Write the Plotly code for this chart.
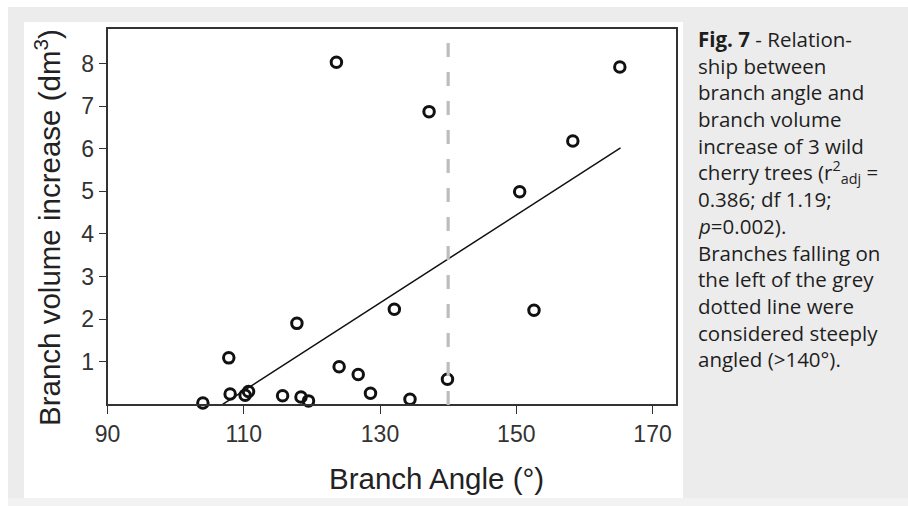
import plotly.graph_objects as go

# ---- data ----
angle = [104.0, 107.8, 108.0, 110.2, 110.7, 115.7, 117.8, 118.4, 119.5, 124.0, 126.8,
         128.6, 132.1, 134.4, 139.9, 152.6, 123.6, 137.2, 150.5, 158.3, 165.2]
volume = [0.03, 1.09, 0.24, 0.21, 0.30, 0.20, 1.90, 0.17, 0.08, 0.88, 0.70,
          0.26, 2.23, 0.12, 0.59, 2.21, 8.03, 6.87, 4.99, 6.18, 7.92]
fit_x = [106.9, 165.3]
fit_y = [0.0, 6.02]
threshold = 140
x_ticks = [90, 110, 130, 150, 170]
y_ticks = [1, 2, 3, 4, 5, 6, 7, 8]

x_title = "Branch Angle (°)"
y_title = "Branch volume increase (dm<sup>3</sup>)"

caption_lines = [
    "<b>Fig. 7</b> - Relation-",
    "ship between",
    "branch angle and",
    "branch volume",
    "increase of 3 wild",
    "cherry trees (r<sup>2</sup><sub>adj</sub> =",
    "0.386; df 1.19;",
    "<i>p</i>=0.002).",
    "Branches falling on",
    "the left of the grey",
    "dotted line were",
    "considered steeply",
    "angled (>140°).",
]

W, H = 908, 506
def px(x):
    return x / W
def py(y):
    return 1 - y / H

AX_FONT = "Liberation Sans, Arial, sans-serif"

fig = go.Figure()

fig.add_trace(go.Scatter(
    x=fit_x, y=fit_y, mode="lines",
    line=dict(color="#111111", width=1.5),
    showlegend=False, hoverinfo="skip"))

fig.add_trace(go.Scatter(
    x=angle, y=volume, mode="markers",
    marker=dict(symbol="circle-open", size=10.5, color="#111111",
                line=dict(width=3, color="#111111")),
    cliponaxis=False, showlegend=False))

shapes = [
    # grey outer panel
    dict(type="rect", xref="paper", yref="paper", x0=px(8), x1=1.0, y0=0, y1=py(7),
         fillcolor="#ececec", line_width=0, layer="below"),
    # lighter bottom strip
    dict(type="rect", xref="paper", yref="paper", x0=px(8), x1=1.0, y0=0, y1=py(498),
         fillcolor="#f2f2f2", line_width=0, layer="below"),
    # white chart panel
    dict(type="rect", xref="paper", yref="paper", x0=px(24), x1=px(683), y0=py(498), y1=py(22),
         fillcolor="#ffffff", line_width=0, layer="below"),
    # threshold dashed line
    dict(type="line", xref="x", yref="paper", x0=threshold, x1=threshold,
         y0=py(405), y1=py(34), line=dict(color="#bdbdbd", width=3.2, dash="14px,15px")),
]

annotations = []
y0 = 39
for i, t in enumerate(caption_lines):
    annotations.append(dict(
        text=t, xref="paper", yref="paper", x=px(696), y=py(y0 + i * 26.7),
        xanchor="left", yanchor="middle", showarrow=False, align="left",
        font=dict(family="Open Sans", size=20.5, color="#1e1e1e")))

annotations.append(dict(
    text=x_title, xref="paper", yref="paper", x=px(436), y=py(478),
    xanchor="center", yanchor="middle", showarrow=False,
    font=dict(family=AX_FONT, size=29.5, color="#222222")))
annotations.append(dict(
    text=y_title, xref="paper", yref="paper", x=px(47), y=py(228),
    xanchor="center", yanchor="middle", showarrow=False, textangle=-90,
    font=dict(family=AX_FONT, size=29.5, color="#222222")))

fig.update_layout(
    width=W, height=H,
    margin=dict(l=0, r=0, t=0, b=0),
    paper_bgcolor="#ffffff", plot_bgcolor="#ffffff",
    shapes=shapes, annotations=annotations,
    xaxis=dict(domain=[px(107.5), px(675.7)], range=[90, 173.4], automargin=False,
               tickvals=x_ticks, ticks="outside", ticklen=8, tickwidth=1.3, tickcolor="#333333",
               showline=True, linecolor="#333333", linewidth=1.6, mirror=True,
               showgrid=False, zeroline=False,
               tickfont=dict(family=AX_FONT, size=23, color="#333333")),
    yaxis=dict(domain=[py(404.3), py(29)], range=[0, 8.81], automargin=False,
               tickvals=y_ticks, ticks="outside", ticklen=7, tickwidth=1.3, tickcolor="#333333",
               showline=True, linecolor="#333333", linewidth=1.6, mirror=True,
               showgrid=False, zeroline=False,
               tickfont=dict(family=AX_FONT, size=23, color="#333333")),
)

fig.write_html("out.html", config={"displayModeBar": False},
               post_script="document.body.style.margin='0';")
